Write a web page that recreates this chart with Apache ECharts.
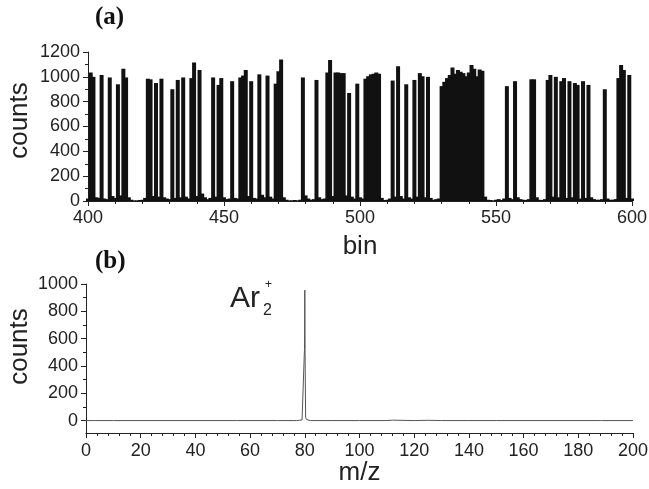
<!DOCTYPE html>
<html>
<head>
<meta charset="utf-8">
<script src="https://cdn.jsdelivr.net/npm/echarts@6/dist/echarts.min.js"></script>
<style>
  html, body { margin: 0; padding: 0; background: #fff; }
  #chart { width: 649px; height: 489px; }
</style>
</head>
<body>
<div id="chart"></div>
<script>
// (a) counts per time bin, bins 400..600
const binStart = 400;
const binCounts = [
  20, 1035, 1000, 30, 25, 1015, 20, 15, 995, 40,        // 400-409
  25, 940, 45, 1065, 995, 30, 10, 5, 5, 8,               // 410-419
  10, 25, 985, 980, 40, 950, 35, 985, 30, 20,            // 420-429
  15, 900, 25, 975, 30, 995, 35, 20, 990, 1115,          // 430-439
  40, 1055, 60, 30, 15, 25, 995, 35, 935, 990,           // 440-449
  30, 15, 20, 965, 25, 20, 995, 1010, 1055, 40,          // 450-459
  965, 25, 20, 1020, 50, 30, 1010, 35, 20, 945,          // 460-469
  1045, 1140, 30, 10, 5, 5, 8, 5, 10, 995,               // 470-479
  45, 20, 10, 15, 975, 30, 15, 20, 1035, 1135,           // 480-489
  40, 1035, 1035, 1030, 1030, 45, 870, 35, 20, 945,      // 490-499
  30, 20, 985, 1005, 1020, 1025, 1035, 1025, 25, 8,      // 500-509
  10, 20, 970, 35, 1085, 40, 20, 940, 30, 20,            // 510-519
  975, 35, 1030, 1005, 30, 1000, 25, 10, 15, 20,         // 520-529
  925, 960, 990, 1015, 1075, 1025, 1055, 1040, 1030, 1005, // 530-539
  1035, 1095, 1065, 1005, 1060, 1050, 35, 10, 8, 5,      // 540-549
  10, 15, 8, 20, 925, 25, 15, 965, 30, 15,               // 550-559
  10, 8, 15, 980, 980, 30, 10, 8, 15, 975,               // 560-569
  1015, 35, 1000, 30, 965, 990, 25, 965, 30, 950,        // 570-579
  935, 20, 965, 25, 935, 30, 15, 10, 10, 15,             // 580-589
  900, 20, 10, 10, 15, 990, 1095, 1055, 25, 1015,        // 590-599
  20                                                     // 600
];

// (b) mass spectrum
const mzValues = [0, 3, 3.3, 10, 30, 55, 55.3, 60, 70, 76, 76.5, 77, 78, 79, 79.5,
  79.8, 79.9, 80, 80.1, 80.3, 80.6, 81, 82, 90, 100, 110, 112, 112.5, 120, 125,
  130, 140, 150, 170, 187.5, 188, 188.5, 200];
const mzCounts = [0, 0, 4, 0, 0, 0, 3, 0, 0, 0, 6, 0, 2, 5, 18,
  480, 520, 955, 500, 25, 8, 3, 0, 0, 0, 0, 3, 0, 0, 2,
  0, 0, 0, 0, 0, -6, 0, 0];

const countsTicks = [0, 200, 400, 600, 800, 1000];
const countsMinorTicks = [100, 300, 500, 700, 900];

const binData = binCounts.map((c, i) => [binStart + i, c]);
const specData = mzValues.map((m, i) => [m, mzCounts[i]]);

const FONT = '"Liberation Sans", Arial, sans-serif';
const axisColor = '#222';

const chart = echarts.init(document.getElementById('chart'), null, { renderer: 'canvas' });

const baseLine = { show: true, onZero: false, lineStyle: { color: axisColor, width: 1 } };
const plain = v => String(v);
const tickLabel = { color: '#222', fontFamily: FONT, fontSize: 18, formatter: plain };
const nameStyle = { color: '#222', fontFamily: FONT, fontSize: 26 };

chart.setOption({
  animation: false,
  backgroundColor: '#fff',
  grid: [
    { left: 88, right: 17, top: 52, bottom: 288, outerBoundsMode: 'none' },
    { left: 86, right: 16, top: 284, bottom: 56, outerBoundsMode: 'none' }
  ],
  xAxis: [
    {
      gridIndex: 0, type: 'value', min: 400, max: 600, interval: 50,
      name: 'bin', nameLocation: 'middle', nameGap: 33, nameMoveOverlap: false, nameTextStyle: nameStyle,
      axisLine: baseLine,
      axisTick: { show: true, length: 5, lineStyle: { color: axisColor } },
      minorTick: { show: true, splitNumber: 5, length: 3, lineStyle: { color: axisColor } },
      axisLabel: Object.assign({}, tickLabel, { margin: 8 }),
      splitLine: { show: false }
    },
    {
      gridIndex: 1, type: 'value', min: 0, max: 200, interval: 20,
      name: 'm/z', nameLocation: 'middle', nameGap: 27, nameMoveOverlap: false, nameTextStyle: nameStyle,
      axisLine: baseLine,
      axisTick: { show: true, length: 5, lineStyle: { color: axisColor } },
      minorTick: { show: true, splitNumber: 5, length: 3, lineStyle: { color: axisColor } },
      axisLabel: Object.assign({}, tickLabel, { margin: 9 }),
      splitLine: { show: false }
    }
  ],
  yAxis: [
    {
      gridIndex: 0, type: 'value', min: 0, max: 1200, interval: 200,
      name: 'counts', nameLocation: 'middle', nameGap: 55, nameMoveOverlap: false,
      nameTextStyle: Object.assign({ padding: [0, 0, 0, 12] }, nameStyle),
      axisLine: baseLine,
      axisTick: { show: true, length: 5, lineStyle: { color: axisColor } },
      minorTick: { show: true, splitNumber: 2, length: 3, lineStyle: { color: axisColor } },
      axisLabel: Object.assign({}, tickLabel, { margin: 8 }),
      splitLine: { show: false }
    },
    {
      gridIndex: 1, type: 'value', position: 'left', min: -91, max: 1000,
      name: 'counts', nameLocation: 'middle', nameGap: 53, nameMoveOverlap: false,
      nameTextStyle: Object.assign({ padding: [0, 0, 0, 24] }, nameStyle),
      axisLine: baseLine,
      axisTick: { show: true, length: 5, customValues: countsTicks, lineStyle: { color: axisColor } },
      axisLabel: Object.assign({}, tickLabel, { margin: 8, customValues: countsTicks }),
      splitLine: { show: false }
    },
    {
      // short ticks between the labelled ones
      gridIndex: 1, type: 'value', position: 'left', offset: 0, min: -91, max: 1000,
      axisLine: { show: false, onZero: false },
      axisTick: { show: true, length: 3, customValues: countsMinorTicks, lineStyle: { color: axisColor } },
      axisLabel: { show: false },
      splitLine: { show: false }
    }
  ],
  series: [
    {
      type: 'bar', xAxisIndex: 0, yAxisIndex: 0,
      data: binData, barWidth: 4,
      itemStyle: { color: '#111' },
      silent: true
    },
    {
      type: 'line', xAxisIndex: 1, yAxisIndex: 1,
      data: specData, showSymbol: false, symbol: 'none',
      lineStyle: { color: '#555', width: 1 },
      silent: true
    }
  ],
  graphic: [
    { type: 'text', left: 95, top: 5, style: { text: '(a)', font: 'bold 25px "Liberation Serif", serif', fill: '#111' } },
    { type: 'text', left: 95, top: 249, style: { text: '(b)', font: 'bold 25px "Liberation Serif", serif', fill: '#111' } },
    { type: 'text', left: 230, top: 284, style: { text: 'Ar', font: '30px ' + FONT, fill: '#222' } },
    { type: 'text', left: 263, top: 303, style: { text: '2', font: '16px ' + FONT, fill: '#222' } },
    { type: 'text', left: 265, top: 279, style: { text: '+', font: '12px ' + FONT, fill: '#222' } }
  ]
});
</script>
</body>
</html>
